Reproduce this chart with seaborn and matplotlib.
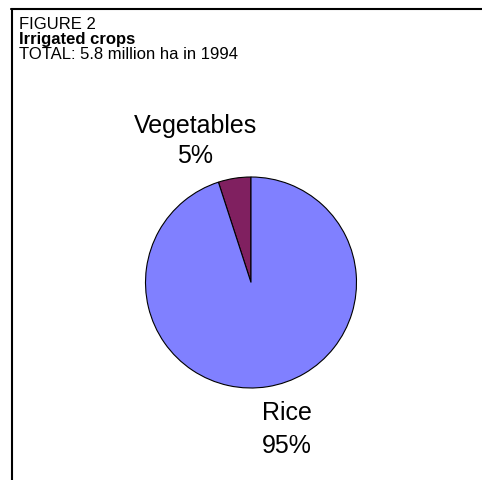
import matplotlib
matplotlib.use("Agg")
import matplotlib.pyplot as plt
import seaborn as sns

sns.set_theme(style="white")
plt.rcParams['font.family'] = ['Liberation Sans', 'DejaVu Sans']
plt.rcParams['text.color'] = 'black'

categories = ["Rice", "Vegetables"]
shares = [95, 5]
colors = ["#8080FF", "#802060"]
title_lines = ["FIGURE 2", "Irrigated crops", "TOTAL: 5.8 million ha in 1994"]

W, H = 482, 481
fig = plt.figure(figsize=(W / 100, H / 100), dpi=100)

# pie axes: centre (251, 283.5) px from top-left, radius 105.5 px, limits +-1.8
cx, cy, r, lim = 251, 283.5, 105.5, 1.8
half = r * lim
ax = fig.add_axes([(cx - half) / W, (H - cy - half) / H, 2 * half / W, 2 * half / H])
ax.axis("off")

# Vegetables drawn first counter-clockwise from 90 deg
wedges, _ = ax.pie(shares[::-1], colors=colors[::-1], startangle=90, counterclock=True,
                   radius=1.0, wedgeprops=dict(edgecolor="black", linewidth=0.8))
ax.set_xlim(-lim, lim)
ax.set_ylim(-lim, lim)
ax.set_aspect("equal")

# label positions in pie units (name baseline, percent baseline)
label_pos = {"Vegetables": (-0.53, 1.427, 1.142), "Rice": (0.341, -1.294, -1.607)}
for cat, val in zip(categories, shares):
    x, y1, y2 = label_pos[cat]
    ax.text(x, y1, cat, ha="center", va="baseline", fontsize=18, color="black", clip_on=False)
    ax.text(x, y2, f"{val}%", ha="center", va="baseline", fontsize=18, color="black", clip_on=False)

# header text
fs = 12
fig.text(19 / W, 1 - 29 / H, title_lines[0], fontsize=fs, va="baseline", ha="left", color="black")
fig.text(19 / W, 1 - 44 / H, title_lines[1], fontsize=fs, va="baseline", ha="left",
         fontweight="bold", color="black")
fig.text(19 / W, 1 - 59 / H, title_lines[2], fontsize=fs, va="baseline", ha="left", color="black")

# frame lines (top and left)
fig.add_artist(plt.Line2D([11 / W, 1.0], [1 - 9.5 / H, 1 - 9.5 / H], transform=fig.transFigure,
                          color="black", linewidth=1.5))
fig.add_artist(plt.Line2D([11.5 / W, 11.5 / W], [0.0, 1 - 9.5 / H], transform=fig.transFigure,
                          color="black", linewidth=1.5))

fig.savefig("out.png", dpi=100, facecolor="white")
